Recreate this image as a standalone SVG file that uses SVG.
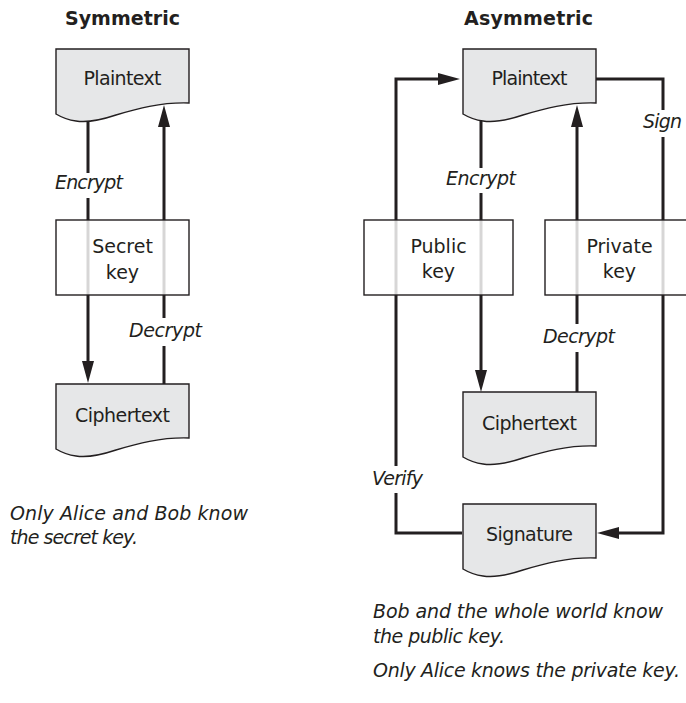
<svg xmlns="http://www.w3.org/2000/svg" width="686" height="703" viewBox="0 0 686 703">
<style>
text{font-family:"DejaVu Sans","Liberation Sans",Arial,sans-serif;font-size:19px;fill:#231f20;text-anchor:middle}
.t{font-weight:bold;text-anchor:start}
.i{font-style:italic}
.c{font-style:italic;text-anchor:start}
.doc{fill:#e6e7e8;stroke:#231f20;stroke-width:1.4}
.key{fill:#ffffff;fill-opacity:0.82;stroke:#231f20;stroke-width:1.4}
.ln{fill:none;stroke:#231f20;stroke-width:3}
</style>
<defs>
<marker id="ah" viewBox="0 0 22 12" refX="12" refY="6" markerWidth="22" markerHeight="12" markerUnits="userSpaceOnUse" orient="auto">
<path d="M0,0 L22,6 L0,12 Z" fill="#231f20"/>
</marker>
<path id="docshape" d="M0,0 H133 V54 C105,53 80,60 60,66 C45,71 32,74 20,72 C12,71 5,68 0,65 Z"/>
</defs>
<rect width="686" height="703" fill="#ffffff"/>
<text class="t" x="65" y="25" textLength="115">Symmetric</text>
<text class="t" x="464" y="25" textLength="129">Asymmetric</text>
<g id="connectors">
<path class="ln" d="M88,120 V173 M88,198 V373" marker-end="url(#ah)"/>
<path class="ln" d="M164,384 V346 M164,318 V115" marker-end="url(#ah)"/>
<path class="ln" d="M481,120 V168 M481,193 V382" marker-end="url(#ah)"/>
<path class="ln" d="M577,392 V352 M577,324 V115" marker-end="url(#ah)"/>
<path class="ln" d="M596,79 H663 V110 M663,137 V533 H607" marker-end="url(#ah)"/>
<path class="ln" d="M462,533 H396 V493 M396,466 V79 H450" marker-end="url(#ah)"/>
</g>
<g id="sym-plaintext">
<use href="#docshape" class="doc" transform="translate(56,49)"/>
<text x="122.5" y="85" textLength="78">Plaintext</text>
</g>
<g id="sym-secretkey">
<rect class="key" x="56" y="220" width="133" height="75"/>
<text x="122.5" y="253">Secret</text>
<text x="122.5" y="279">key</text>
</g>
<g id="sym-ciphertext">
<use href="#docshape" class="doc" transform="translate(56,384)"/>
<text x="122.5" y="422" textLength="95">Ciphertext</text>
</g>
<g id="sym-labels">
<text class="i" x="89" y="189" textLength="68">Encrypt</text>
<text class="i" x="165.5" y="337" textLength="73">Decrypt</text>
<text class="c" x="10" y="520" textLength="238">Only Alice and Bob know</text>
<text class="c" x="10" y="544" textLength="128">the secret key.</text>
</g>
<g id="asym-plaintext">
<use href="#docshape" class="doc" transform="translate(463,49)"/>
<text x="529.5" y="85" textLength="76">Plaintext</text>
</g>
<g id="asym-publickey">
<rect class="key" x="364" y="220" width="149" height="75"/>
<text x="438.5" y="253">Public</text>
<text x="438.5" y="278">key</text>
</g>
<g id="asym-privatekey">
<rect class="key" x="545" y="220" width="149" height="75"/>
<text x="619.5" y="253">Private</text>
<text x="619.5" y="278">key</text>
</g>
<g id="asym-ciphertext">
<use href="#docshape" class="doc" transform="translate(463,392)"/>
<text x="529.5" y="430" textLength="95">Ciphertext</text>
</g>
<g id="asym-signature">
<use href="#docshape" class="doc" transform="translate(463,504)"/>
<text x="529.5" y="541" textLength="87">Signature</text>
</g>
<g id="asym-labels">
<text class="i" x="481" y="185" textLength="70">Encrypt</text>
<text class="i" x="579" y="343" textLength="72">Decrypt</text>
<text class="i" x="662.5" y="128" textLength="39">Sign</text>
<text class="i" x="397.5" y="485" textLength="51">Verify</text>
<text class="c" x="373" y="618" textLength="290">Bob and the whole world know</text>
<text class="c" x="373" y="643" textLength="132">the public key.</text>
<text class="c" x="373" y="677" textLength="307">Only Alice knows the private key.</text>
</g>
</svg>
